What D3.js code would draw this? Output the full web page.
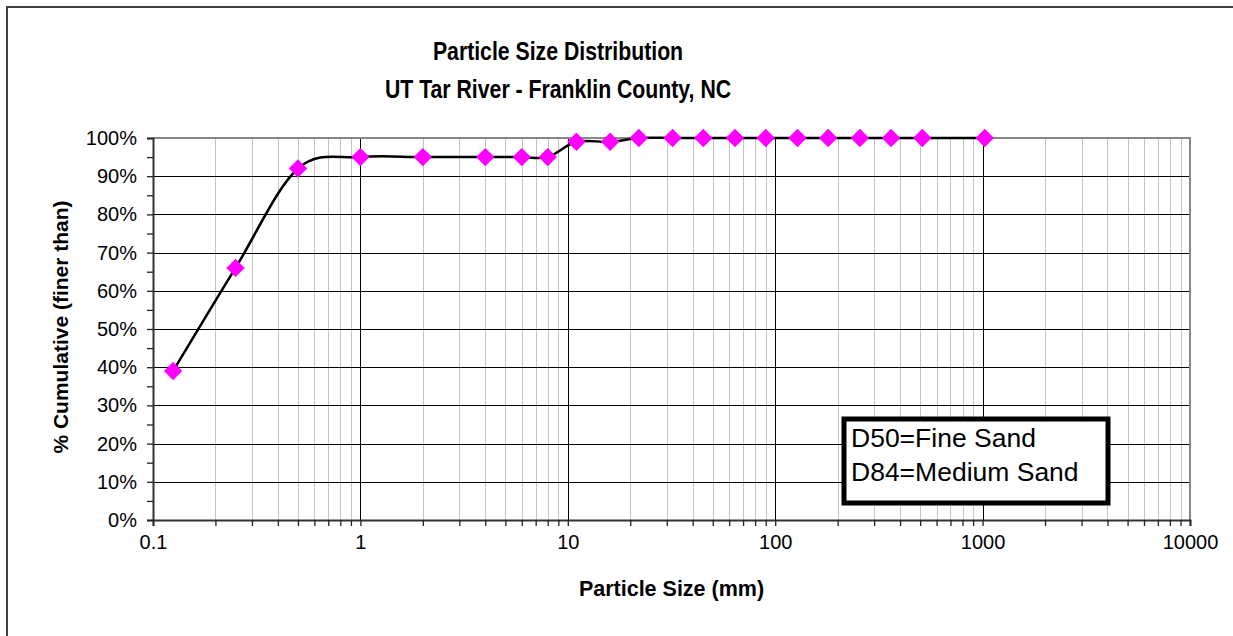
<!DOCTYPE html>
<html>
<head>
<meta charset="utf-8">
<script src="https://cdn.jsdelivr.net/npm/d3@7"></script>
<style>
  html, body { margin: 0; padding: 0; background: #fff; overflow: hidden; }
  svg { display: block; font-family: "Liberation Sans", Arial, sans-serif; }
</style>
</head>
<body>
<div id="chart"></div>
<script>
// particle size (mm) and cumulative % finer
const particleSizes = [0.125, 0.25, 0.5, 1, 2, 4, 6, 8, 11, 16, 22, 32, 45, 64, 90, 128, 180, 256, 362, 512, 1024];
const percentFiner = [39, 66, 92, 95, 95, 95, 95, 95, 99, 99, 100, 100, 100, 100, 100, 100, 100, 100, 100, 100, 100];

const xTickValues = [0.1, 1, 10, 100, 1000, 10000];
const xTickLabels = ["0.1", "1", "10", "100", "1000", "10000"];
const yTickValues = [0, 10, 20, 30, 40, 50, 60, 70, 80, 90, 100];

const titleLines = ["Particle Size Distribution", "UT Tar River - Franklin County, NC"];
const noteLines = ["D50=Fine Sand", "D84=Medium Sand"];

const width = 1233, height = 636;
const plot = { left: 153, right: 1190, top: 138, bottom: 520 };

const svg = d3.select("#chart").append("svg")
  .attr("width", width)
  .attr("height", height);

// outer chart frame (only left and top edges fall inside the picture)
svg.append("path")
  .attr("d", `M7,${height}V7H${width}`)
  .attr("fill", "none")
  .attr("stroke", "#404040")
  .attr("stroke-width", 2);

const xScale = d3.scaleLog()
  .domain([0.1, 10000])
  .range([plot.left, plot.right]);

const yScale = d3.scaleLinear()
  .domain([0, 100])
  .range([plot.bottom, plot.top]);

// minor log ticks 2..9 in every decade
const minorX = [];
for (let e = -1; e < 4; e++) {
  for (let m = 2; m <= 9; m++) minorX.push(m * Math.pow(10, e));
}

const grid = svg.append("g");

grid.selectAll(".minor-x")
  .data(minorX)
  .enter().append("line")
  .attr("x1", d => Math.round(xScale(d)) + 0.5)
  .attr("x2", d => Math.round(xScale(d)) + 0.5)
  .attr("y1", plot.top)
  .attr("y2", plot.bottom)
  .attr("stroke", "#c4c4c4")
  .attr("stroke-width", 1);

grid.selectAll(".major-x")
  .data(xTickValues.slice(1, -1))
  .enter().append("line")
  .attr("x1", d => Math.round(xScale(d)) + 0.5)
  .attr("x2", d => Math.round(xScale(d)) + 0.5)
  .attr("y1", plot.top)
  .attr("y2", plot.bottom)
  .attr("stroke", "#000")
  .attr("stroke-width", 1);

grid.selectAll(".major-y")
  .data(yTickValues.slice(1, -1))
  .enter().append("line")
  .attr("x1", plot.left)
  .attr("x2", plot.right)
  .attr("y1", d => Math.round(yScale(d)) + 0.5)
  .attr("y2", d => Math.round(yScale(d)) + 0.5)
  .attr("stroke", "#000")
  .attr("stroke-width", 1);

// plot area border: grey top / right
svg.append("path")
  .attr("d", `M${plot.left},${plot.top}H${plot.right}V${plot.bottom}`)
  .attr("fill", "none")
  .attr("stroke", "#888")
  .attr("stroke-width", 2);

// axes
const yAxis = d3.axisLeft(yScale)
  .tickValues(d3.range(0, 101, 5))
  .tickSize(6)
  .tickFormat(d => d % 10 === 0 ? d + "%" : "");

const yAxisG = svg.append("g")
  .attr("transform", `translate(${plot.left},0)`)
  .call(yAxis);

const xAxis = d3.axisBottom(xScale)
  .tickValues(xTickValues.concat(minorX))
  .tickSize(6)
  .tickFormat(d => {
    const i = xTickValues.indexOf(d);
    return i >= 0 ? xTickLabels[i] : "";
  });

const xAxisG = svg.append("g")
  .attr("transform", `translate(0,${plot.bottom})`)
  .call(xAxis);

[xAxisG, yAxisG].forEach(g => {
  g.select(".domain").attr("stroke", "#333").attr("stroke-width", 2);
  g.selectAll(".tick line").attr("stroke", "#222").attr("stroke-width", 1.3);
  g.selectAll(".tick text")
    .attr("fill", "#000")
    .style("font-family", "Liberation Sans, Arial, sans-serif")
    .style("font-size", "20px");
});
yAxisG.selectAll(".tick text").attr("x", -16);
xAxisG.selectAll(".tick text").attr("y", 15);

// curve + markers
const points = particleSizes.map((s, i) => ({ size: s, pct: percentFiner[i] }));

const line = d3.line()
  .x(d => xScale(d.size))
  .y(d => yScale(d.pct))
  .curve(d3.curveCardinal.tension(0));

svg.append("path")
  .datum(points)
  .attr("d", line)
  .attr("fill", "none")
  .attr("stroke", "#000")
  .attr("stroke-width", 2.5);

const diamond = d3.symbol(d3.symbolSquare, 170);

svg.selectAll(".point")
  .data(points)
  .enter().append("path")
  .attr("class", "point")
  .attr("d", diamond)
  .attr("transform", d => `translate(${xScale(d.size)},${yScale(d.pct)}) rotate(45)`)
  .attr("fill", "#ff00ff");

// titles (narrow, tall bold face as in the original)
svg.append("g")
  .attr("transform", "translate(558,0) scale(0.85,1)")
  .append("text")
  .attr("text-anchor", "middle")
  .style("font-weight", "bold")
  .style("font-size", "25px")
  .selectAll("tspan")
  .data(titleLines)
  .enter().append("tspan")
  .attr("x", 0)
  .attr("y", (d, i) => 60 + i * 38)
  .text(d => d);

svg.append("text")
  .attr("x", (plot.left + plot.right) / 2)
  .attr("y", 596)
  .attr("text-anchor", "middle")
  .style("font-weight", "bold")
  .style("font-size", "21.5px")
  .text("Particle Size (mm)");

svg.append("text")
  .attr("transform", `translate(68,${(plot.top + plot.bottom) / 2 - 2}) rotate(-90)`)
  .attr("text-anchor", "middle")
  .style("font-weight", "bold")
  .style("font-size", "21px")
  .text("% Cumulative (finer than)");

// note box
const note = svg.append("g");
note.append("rect")
  .attr("x", 844).attr("y", 419)
  .attr("width", 264).attr("height", 84)
  .attr("fill", "#fff")
  .attr("stroke", "#000")
  .attr("stroke-width", 5);

note.selectAll("text")
  .data(noteLines)
  .enter().append("text")
  .attr("x", 851)
  .attr("y", (d, i) => 447 + i * 34)
  .style("font-size", "26.5px")
  .text(d => d);
</script>
</body>
</html>
